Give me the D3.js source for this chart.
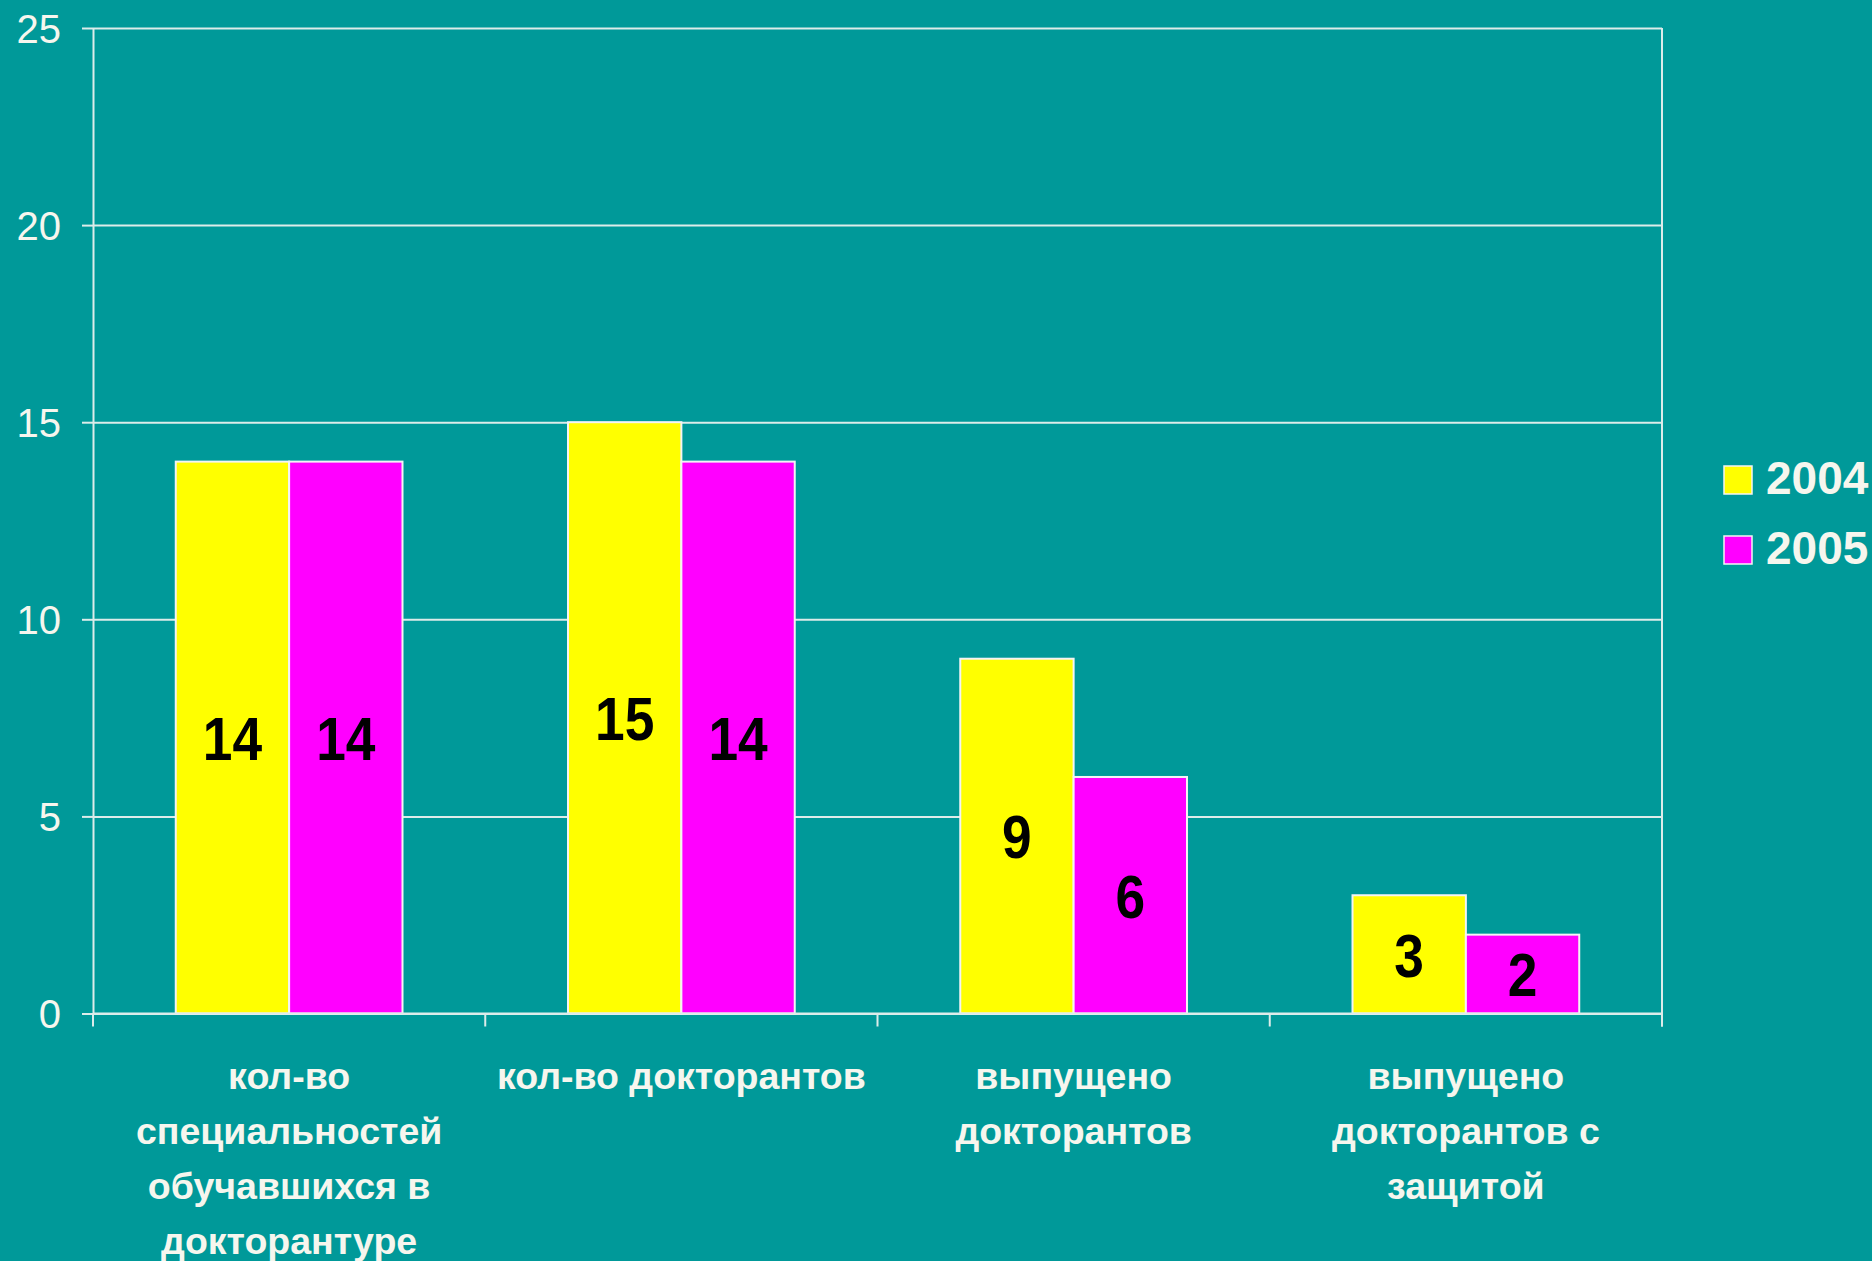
<!DOCTYPE html>
<html>
<head>
<meta charset="utf-8">
<script src="https://cdn.jsdelivr.net/npm/d3@7"></script>
<style>
  html, body { margin: 0; padding: 0; background: #009999; overflow: hidden; }
  svg { display: block; }
  text { font-family: "Liberation Sans", Arial, sans-serif; }
</style>
</head>
<body>
<div class="chart"></div>
<script>
// данные
const categories = ['спец', 'докт', 'вып', 'защ']
const categoryLines = [
  ['кол-во', 'специальностей', 'обучавшихся в', 'докторантуре'],
  ['кол-во докторантов'],
  ['выпущено', 'докторантов'],
  ['выпущено', 'докторантов с', 'защитой']
]
const seriesNames = ['2004', '2005']
const values2004 = [14, 15, 9, 3]
const values2005 = [14, 14, 6, 2]
const yTicks = [0, 5, 10, 15, 20, 25]
const seriesColors = ['#ffff00', '#ff00ff']

// lienzo
const width = 1872
const height = 1261
const margin = { left: 93, right: 210, top: 28, bottom: 247.5 }
const lineColor = '#dcecea'
const textColor = '#f6f6ee'

const svg = d3.select('.chart')
  .append('svg')
  .attr('width', width)
  .attr('height', height)

svg.append('rect')
  .attr('width', width)
  .attr('height', height)
  .attr('fill', '#009999')

// escalas
const x0 = d3.scaleBand()
  .domain(categories)
  .range([margin.left, width - margin.right])
  .padding(0)

const x1 = d3.scaleBand()
  .domain(seriesNames)
  .range([0, x0.bandwidth()])
  .paddingInner(0)
  .paddingOuter(0.73)

const yScale = d3.scaleLinear()
  .domain([0, 25])
  .range([height - margin.bottom, margin.top])

// grid
svg.append('g')
  .attr('transform', `translate(${margin.left},0)`)
  .call(d3.axisLeft(yScale).tickValues(yTicks).tickSize(-(width - margin.left - margin.right)).tickFormat(''))
  .call(g => g.select('.domain').remove())
  .call(g => g.selectAll('line').attr('stroke', lineColor).attr('stroke-width', 2))

// eje y
svg.append('g')
  .attr('transform', `translate(${margin.left},0)`)
  .call(d3.axisLeft(yScale).tickValues(yTicks).tickSize(11).tickSizeOuter(0).tickPadding(21))
  .call(g => g.select('.domain').attr('stroke', lineColor).attr('stroke-width', 2))
  .call(g => g.selectAll('line').attr('stroke', lineColor).attr('stroke-width', 2))
  .call(g => g.selectAll('text')
    .attr('fill', textColor)
    .style('font-size', '40px')
    .attr('dy', '0.36em'))

// borde derecho
const xRight = x0.range()[1]
svg.append('line')
  .attr('x1', xRight).attr('x2', xRight)
  .attr('y1', yScale(25)).attr('y2', yScale(0) + 13)
  .attr('stroke', lineColor).attr('stroke-width', 2)

// barras
const rows = categories.map((c, i) => ({ cat: c, vals: [values2004[i], values2005[i]] }))

const groups = svg.selectAll('g.group')
  .data(rows)
  .enter()
  .append('g')
  .attr('class', 'group')
  .attr('transform', d => `translate(${x0(d.cat)},0)`)

groups.selectAll('rect')
  .data(d => d.vals.map((v, j) => ({ key: seriesNames[j], v: v, j: j })))
  .enter()
  .append('rect')
  .attr('x', d => x1(d.key))
  .attr('y', d => yScale(d.v))
  .attr('width', x1.bandwidth())
  .attr('height', d => yScale(0) - yScale(d.v))
  .attr('fill', d => seriesColors[d.j])
  .attr('stroke', '#f4f4f4')
  .attr('stroke-width', 2)

// etiquetas de valor (un poco estrechas, como en el original)
groups.selectAll('text.val')
  .data(d => d.vals.map((v, j) => ({ key: seriesNames[j], v: v })))
  .enter()
  .append('text')
  .attr('class', 'val')
  .attr('transform', d => `translate(${x1(d.key) + x1.bandwidth() / 2},${(yScale(d.v) + yScale(0)) / 2}) scale(0.86,1)`)
  .attr('dy', '0.36em')
  .attr('text-anchor', 'middle')
  .attr('fill', '#000')
  .style('font-size', '62px')
  .style('font-weight', 'bold')
  .text(d => d.v)

// eje x: ticks en los límites
const bounds = categories.map(c => x0(c)).concat([xRight])
svg.append('line')
  .attr('x1', margin.left).attr('x2', xRight)
  .attr('y1', yScale(0)).attr('y2', yScale(0))
  .attr('stroke', lineColor).attr('stroke-width', 2)
svg.selectAll('line.xtick')
  .data(bounds)
  .enter()
  .append('line')
  .attr('class', 'xtick')
  .attr('x1', d => d).attr('x2', d => d)
  .attr('y1', yScale(0)).attr('y2', yScale(0) + 13)
  .attr('stroke', lineColor).attr('stroke-width', 2)

// etiquetas de categorías
const catText = svg.selectAll('text.cat')
  .data(categories)
  .enter()
  .append('text')
  .attr('class', 'cat')
  .attr('text-anchor', 'middle')
  .attr('fill', textColor)
  .style('font-size', '37.5px')
  .style('font-weight', 'bold')

catText.selectAll('tspan')
  .data((d, i) => categoryLines[i].map(t => ({ t: t, c: d })))
  .enter()
  .append('tspan')
  .attr('x', d => x0(d.c) + x0.bandwidth() / 2)
  .attr('y', (d, k) => yScale(0) + 75 + k * 55)
  .text(d => d.t)

// leyenda
const legend = svg.append('g')
  .attr('transform', 'translate(1724,466)')

legend.selectAll('rect')
  .data(seriesNames)
  .enter()
  .append('rect')
  .attr('x', 0)
  .attr('y', (d, i) => i * 70)
  .attr('width', 28)
  .attr('height', 28)
  .attr('fill', (d, i) => seriesColors[i])
  .attr('stroke', '#f4f4f4')
  .attr('stroke-width', 1.5)

legend.selectAll('text')
  .data(seriesNames)
  .enter()
  .append('text')
  .attr('x', 42)
  .attr('y', (d, i) => i * 70 + 28)
  .attr('fill', textColor)
  .style('font-size', '46px')
  .style('font-weight', 'bold')
  .text(d => d)
</script>
</body>
</html>
